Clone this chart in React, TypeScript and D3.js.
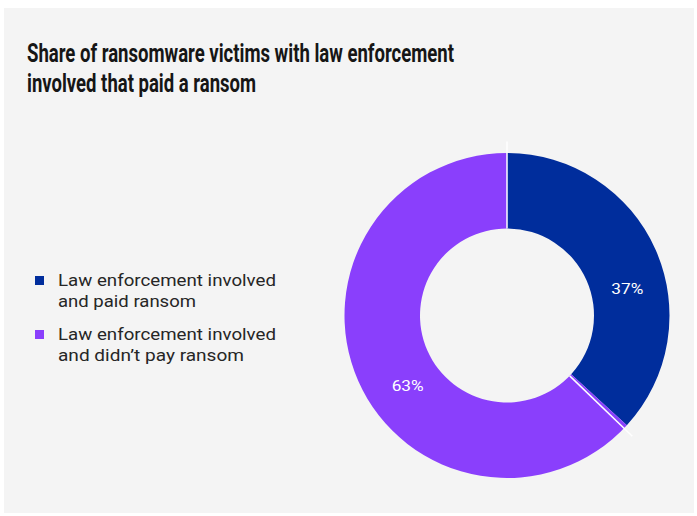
import React from "react";
import * as d3 from "d3";

const categories = ["Law enforcement involved and paid ransom", "Law enforcement involved and didn’t pay ransom"];
const values = [36.8, 63.2];
const labels = ["37%", "63%"];
const colors = ["#002d9c", "#8a3ffc"];
const legendLines = [
  ["Law enforcement involved", "and paid ransom"],
  ["Law enforcement involved", "and didn’t pay ransom"],
];
const legendWidths = [
  [218, 138],
  [218, 186],
];
const titleLines = ["Share of ransomware victims with law enforcement", "involved that paid a ransom"];
const separators = [0, 37.2];

export default function App() {
  const W = 697, H = 516;
  const cx = 507, cy = 315.5, rO = 162.5, rI = 87;
  const pie = d3.pie<number>().sort(null).value((d) => d);
  const arcs = pie(values);
  const arc = d3.arc<d3.PieArcDatum<number>>().innerRadius(rI).outerRadius(rO);
  const labelArc = d3.arc<d3.PieArcDatum<number>>().innerRadius(120).outerRadius(120);
  const total = d3.sum(values);
  const angle = d3.scaleLinear().domain([0, total]).range([0, 2 * Math.PI]);
  return (
    <svg width={W} height={H} style={{ position: "absolute", left: 0, top: 0 }}>
      <rect x={0} y={0} width={W} height={H} fill="#ffffff" />
      <rect x={4} y={8} width={690} height={505} fill="#f4f4f4" />
      {titleLines.map((t, i) => (
        <text key={i} x={27} y={61.5 + i * 30} fontFamily="Roboto, sans-serif" fontWeight={700} fontSize={25.5}
          fill="#161616" textLength={i === 0 ? 427 : 229} lengthAdjust="spacingAndGlyphs">{t}</text>
      ))}
      {categories.map((c, i) => (
        <g key={c}>
          <rect x={35} y={276 + i * 54} width={9} height={9} fill={colors[i]} />
          {legendLines[i].map((l, j) => (
            <text key={j} x={58} y={286 + i * 54 + j * 20.5} fontFamily="Roboto, sans-serif" fontSize={16.5}
              fill="#262626" textLength={legendWidths[i][j]} lengthAdjust="spacingAndGlyphs">{l}</text>
          ))}
        </g>
      ))}
      <g transform={`translate(${cx},${cy})`}>
        {arcs.map((a, i) => (
          <path key={i} d={arc(a) || ""} fill={colors[i]} />
        ))}
        {separators.map((s, i) => {
          const a = angle(s);
          return (
            <line key={i} x1={Math.sin(a) * rI} y1={-Math.cos(a) * rI} x2={Math.sin(a) * 174} y2={-Math.cos(a) * 174}
              stroke="#ffffff" strokeWidth={1.5} />
          );
        })}
        {arcs.map((a, i) => {
          const [lx, ly] = labelArc.centroid(a);
          return (
            <text key={i} x={lx + 10.5} y={ly + 22} textAnchor="middle" dominantBaseline="central"
              fontFamily="Roboto, sans-serif" fontSize={15.5} fill="#ffffff" textLength={32}
              lengthAdjust="spacingAndGlyphs">{labels[i]}</text>
          );
        })}
      </g>
    </svg>
  );
}
